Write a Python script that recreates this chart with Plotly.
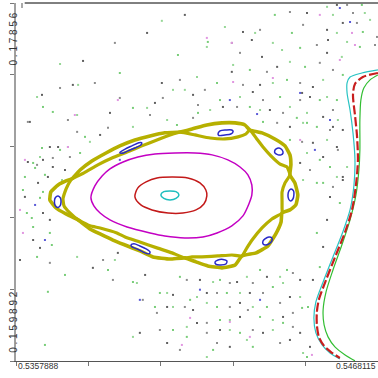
import plotly.graph_objects as go

# ---------------- axis extent & tick labels ----------------
x_min, x_max = 0.5357888, 0.5468115
y_min, y_max = 0.159892, 0.17856
x_tick_vals = [0.5357888, 0.5379933, 0.5401979, 0.5424024, 0.5446070, 0.5468115]
y_tick_vals = [0.159892, 0.1636256, 0.1673592, 0.1710928, 0.1748264, 0.17856]
x_tick_labels = ["0.5357888", "0.5468115"]
y_tick_labels = ["0.159892", "0.17856"]

# ---------------- closed orbits around the central fixed point ----------------
cyan_x = [0.54020,0.54029,0.54048,0.54066,0.54075,0.54066,0.54048,0.54029,0.54020]
cyan_y = [0.16855,0.16872,0.16876,0.16872,0.16855,0.16837,0.16829,0.16837,0.16855]

red_x = [0.53941,0.53950,0.53975,0.54008,0.54054,0.54102,0.54139,0.54157,0.54160,0.54151,
         0.54127,0.54087,0.54042,0.53993,0.53959,0.53941]
red_y = [0.16845,0.16892,0.16923,0.16944,0.16949,0.16944,0.16918,0.16881,0.16850,0.16808,
         0.16777,0.16761,0.16761,0.16777,0.16803,0.16845]

magenta_x = [0.53807,0.53819,0.53841,0.53865,0.53905,0.53950,0.54002,0.54063,0.54124,0.54176,
             0.54224,0.54261,0.54285,0.54297,0.54297,0.54288,0.54270,0.54236,0.54191,0.54148,
             0.54093,0.54032,0.53987,0.53917,0.53865,0.53835,0.53816,0.53807]
magenta_y = [0.16840,0.16902,0.16954,0.16991,0.17027,0.17053,0.17069,0.17074,0.17074,0.17064,
             0.17038,0.17001,0.16960,0.16907,0.16855,0.16808,0.16746,0.16694,0.16657,0.16636,
             0.16631,0.16641,0.16657,0.16688,0.16725,0.16761,0.16798,0.16840]

# ---------------- chaotic separatrix layer (outer and inner strands) ----------------
yellow_outer_x = [0.53768,0.53731,0.53701,0.53682,0.53685,0.53707,0.53731,0.53749,0.53774,0.53810,
                  0.53853,0.53895,0.53941,0.53987,0.54032,0.54078,0.54115,0.54160,0.54206,0.54246,
                  0.54276,0.54291,0.54328,0.54367,0.54398,0.54413,0.54416,0.54413,0.54428,0.54437,
                  0.54431,0.54413,0.54389,0.54386,0.54370,0.54346,0.54310,0.54267,0.54246,0.54206,
                  0.54163,0.54127,0.54093,0.54048,0.53996,0.53956,0.53911,0.53874,0.53835,0.53804,
                  0.53768]
yellow_outer_y = [0.16725,0.16756,0.16787,0.16829,0.16871,0.16907,0.16928,0.16939,0.16985,0.17032,
                  0.17074,0.17111,0.17142,0.17163,0.17179,0.17183,0.17199,0.17220,0.17231,0.17231,
                  0.17220,0.17194,0.17179,0.17147,0.17111,0.17064,0.17012,0.16960,0.16918,0.16855,
                  0.16803,0.16777,0.16761,0.16714,0.16652,0.16589,0.16553,0.16537,0.16490,0.16475,
                  0.16485,0.16506,0.16527,0.16521,0.16532,0.16563,0.16594,0.16620,0.16652,0.16678,
                  0.16725]
yellow_inner_x = [0.53768,0.53743,0.53725,0.53722,0.53728,0.53737,0.53749,0.53786,0.53828,0.53871,
                  0.53917,0.53962,0.54008,0.54048,0.54078,0.54124,0.54170,0.54215,0.54255,0.54279,
                  0.54291,0.54310,0.54331,0.54355,0.54383,0.54404,0.54413,0.54398,0.54389,0.54389,
                  0.54389,0.54389,0.54358,0.54328,0.54300,0.54282,0.54267,0.54236,0.54194,0.54145,
                  0.54115,0.54093,0.54054,0.54008,0.53956,0.53911,0.53886,0.53835,0.53804,0.53768]
yellow_inner_y = [0.16725,0.16761,0.16798,0.16834,0.16871,0.16907,0.16939,0.16970,0.17012,0.17048,
                  0.17079,0.17111,0.17142,0.17168,0.17183,0.17168,0.17152,0.17147,0.17158,0.17173,
                  0.17194,0.17152,0.17105,0.17059,0.17016,0.17001,0.16960,0.16918,0.16871,0.16824,
                  0.16787,0.16761,0.16730,0.16683,0.16625,0.16579,0.16537,0.16542,0.16537,0.16532,
                  0.16532,0.16527,0.16553,0.16579,0.16610,0.16636,0.16657,0.16683,0.16694,0.16725]

# ---------------- 8-island chain (blue), separated by None ----------------
island_x = [0.53707,0.53714,0.53716,0.53713,0.53705,0.53698,0.53696,0.53699,0.53707, None,
            0.53895,0.53911,0.53932,0.53953,0.53962,0.53959,0.53941,0.53920,0.53902,0.53895, None,
            0.54194,0.54200,0.54218,0.54236,0.54240,0.54233,0.54215,0.54197,0.54194, None,
            0.54370,0.54380,0.54389,0.54392,0.54386,0.54377,0.54367,0.54367,0.54370, None,
            0.54416,0.54424,0.54425,0.54422,0.54415,0.54409,0.54407,0.54410,0.54416, None,
            0.54337,0.54349,0.54358,0.54358,0.54349,0.54337,0.54331,0.54331,0.54337, None,
            0.54185,0.54194,0.54209,0.54221,0.54218,0.54203,0.54188,0.54185, None,
            0.53929,0.53938,0.53956,0.53975,0.53987,0.53984,0.53965,0.53947,0.53932,0.53929]
island_y = [0.16850,0.16840,0.16819,0.16798,0.16790,0.16800,0.16824,0.16842,0.16850, None,
            0.17076,0.17094,0.17111,0.17127,0.17127,0.17116,0.17100,0.17085,0.17072,0.17076, None,
            0.17173,0.17189,0.17194,0.17194,0.17186,0.17173,0.17168,0.17165,0.17173, None,
            0.17094,0.17100,0.17090,0.17074,0.17064,0.17064,0.17074,0.17087,0.17094, None,
            0.16886,0.16876,0.16855,0.16834,0.16824,0.16834,0.16855,0.16876,0.16886, None,
            0.16626,0.16636,0.16631,0.16615,0.16600,0.16594,0.16600,0.16615,0.16626, None,
            0.16506,0.16516,0.16519,0.16511,0.16495,0.16490,0.16493,0.16506, None,
            0.16594,0.16600,0.16589,0.16574,0.16558,0.16548,0.16558,0.16574,0.16584,0.16594]

# ---------------- outer invariant curves on the right ----------------
cyan_r_x = [0.54681,0.54632,0.54596,0.54587,0.54587,0.54596,0.54605,0.54611,0.54608,0.54596,
            0.54574,0.54544,0.54514,0.54492,0.54486,0.54492,0.54511,0.54535,0.54565]
cyan_r_y = [0.17507,0.17491,0.17470,0.17439,0.17387,0.17298,0.17179,0.17038,0.16907,0.16777,
            0.16662,0.16532,0.16401,0.16297,0.16214,0.16136,0.16073,0.16031,0.16000]
red_r_x = [0.54681,0.54635,0.54611,0.54605,0.54611,0.54617,0.54620,0.54614,0.54602,0.54581,
           0.54553,0.54523,0.54501,0.54495,0.54495,0.54501,0.54517,0.54538,0.54565]
red_r_y = [0.17491,0.17470,0.17434,0.17377,0.17272,0.17168,0.17038,0.16907,0.16777,0.16662,
           0.16542,0.16412,0.16308,0.16245,0.16177,0.16115,0.16068,0.16036,0.16005]
green_r_x = [0.54681,0.54657,0.54638,0.54629,0.54626,0.54626,0.54623,0.54614,0.54596,0.54571,
             0.54544,0.54523,0.54514,0.54517,0.54529,0.54550,0.54581,0.54611]
green_r_y = [0.17481,0.17455,0.17413,0.17350,0.17246,0.17090,0.16985,0.16855,0.16725,0.16594,
             0.16464,0.16350,0.16255,0.16177,0.16115,0.16063,0.16021,0.15990]

# ---------------- scattered chaotic-sea points ----------------
gray_x = [0.54093,0.53978,0.53783,0.54023,0.53752,0.53658,0.53865,0.54002,0.53835,0.53682,
          0.53615,0.53728,0.54270,0.54465,0.54556,0.54574,0.54526,0.54297,0.54328,0.54529,
          0.54526,0.54374,0.54236,0.54483,0.54322,0.54118,0.54300,0.54474,0.54514,0.54352,
          0.54209,0.54574,0.54413,0.54483,0.54514,0.54444,0.54574,0.53591,0.53813,0.53889,
          0.53972,0.54057,0.54039,0.54139,0.54252,0.54343,0.54444,0.54291,0.54160,0.54118,
          0.54261,0.54413,0.54392,0.54261,0.54130,0.53956,0.54200,0.54331,0.54444,0.54413,
          0.54230,0.54039,0.53621,0.53707,0.53661,0.53691,0.53676,0.53646,0.53606,0.53661,
          0.53682,0.53631,0.53652,0.54450,0.54544,0.54556,0.54574,0.54535,0.54526,0.54514,
          0.54483,0.54474]
gray_y = [0.17794,0.17700,0.17554,0.17439,0.17429,0.17377,0.17283,0.17335,0.17168,0.17105,
          0.17027,0.16985,0.17705,0.17804,0.17846,0.17752,0.17716,0.17663,0.17575,0.17663,
          0.17596,0.17523,0.17497,0.17418,0.17429,0.17377,0.17392,0.17366,0.17262,0.17298,
          0.17314,0.17194,0.17210,0.17127,0.17053,0.17022,0.16933,0.16516,0.16475,0.16553,
          0.16438,0.16334,0.16271,0.16412,0.16401,0.16428,0.16412,0.16344,0.16344,0.16255,
          0.16292,0.16323,0.16219,0.16219,0.16188,0.16136,0.16151,0.16136,0.16136,0.16099,
          0.16063,0.16083,0.17236,0.17105,0.17038,0.17001,0.16949,0.16918,0.16845,0.16761,
          0.16725,0.16620,0.16579,0.17387,0.17210,0.17105,0.16949,0.16845,0.16725,0.16584,
          0.16412,0.16063]
gray_x_2 = [0.53682,0.53844,0.53874,0.53965,0.54008,0.54099,0.54230,0.54300,0.54422,0.54331,
            0.54191,0.54093,0.54230,0.54383,0.54422,0.54285,0.54160,0.54017,0.54160,0.54300,
            0.54422,0.54383,0.54191,0.54078,0.54322,0.54413,0.54587,0.54605,0.54617,0.54678,
            0.54453,0.54236,0.54261,0.54495,0.54672,0.54504,0.54343,0.54544,0.54444,0.54270,
            0.54154,0.54331,0.54444,0.54544,0.54392,0.54252,0.54133,0.54535,0.54374,0.54450,
            0.54559,0.54474,0.54544,0.54118,0.53880,0.54078,0.54026,0.53819,0.53713,0.53737,
            0.53895,0.53987,0.53859,0.53743,0.53643,0.53615,0.53765,0.53691]
gray_y_2 = [0.16501,0.16516,0.16412,0.16308,0.16240,0.16412,0.16396,0.16396,0.16448,0.16344,
            0.16344,0.16271,0.16271,0.16292,0.16240,0.16255,0.16188,0.16151,0.16136,0.16151,
            0.16167,0.16083,0.16083,0.16047,0.17716,0.17809,0.17846,0.17804,0.17752,0.17679,
            0.17742,0.17648,0.17596,0.17637,0.17637,0.17544,0.17497,0.17507,0.17439,0.17429,
            0.17403,0.17350,0.17350,0.17298,0.17283,0.17314,0.17324,0.17194,0.17231,0.17132,
            0.17090,0.16985,0.16897,0.17257,0.17648,0.17455,0.17361,0.17439,0.17413,0.17246,
            0.17361,0.17272,0.17205,0.17053,0.17012,0.17236,0.17184,0.17048]
green_x = [0.54072,0.53895,0.53691,0.53935,0.54069,0.53774,0.53667,0.53661,0.53789,0.53713,
           0.54367,0.54632,0.54635,0.54419,0.54163,0.54444,0.54626,0.54459,0.54291,0.54574,
           0.54404,0.54191,0.54200,0.54383,0.54556,0.54434,0.54291,0.54133,0.54495,0.54331,
           0.54413,0.54535,0.54495,0.53728,0.53859,0.53935,0.54017,0.54002,0.54078,0.54200,
           0.54322,0.54404,0.54361,0.54221,0.54109,0.54191,0.54343,0.54450,0.54322,0.54200,
           0.54057,0.54099,0.54261,0.54392,0.54300,0.54465,0.54179,0.53658,0.53631,0.53637,
           0.53606,0.53600,0.53661,0.53652,0.53612,0.53627,0.53631,0.53682,0.53688,0.53643,
           0.54504,0.54465,0.54504,0.54514,0.54565,0.54495,0.54504,0.54468,0.53676,0.53667]
green_y = [0.17585,0.17491,0.17288,0.17309,0.17220,0.17074,0.16960,0.17314,0.17158,0.17090,
           0.17794,0.17846,0.17705,0.17700,0.17653,0.17622,0.17627,0.17523,0.17507,0.17481,
           0.17455,0.17439,0.17350,0.17366,0.17350,0.17257,0.17314,0.17283,0.17210,0.17236,
           0.17142,0.17001,0.16918,0.16438,0.16464,0.16401,0.16344,0.16271,0.16428,0.16412,
           0.16464,0.16464,0.16375,0.16344,0.16308,0.16271,0.16271,0.16266,0.16219,0.16203,
           0.16151,0.16115,0.16136,0.16188,0.16063,0.16010,0.16047,0.17100,0.17022,0.16996,
           0.16949,0.16881,0.16871,0.16840,0.16761,0.16735,0.16688,0.16657,0.16594,0.16532,
           0.17350,0.17231,0.17038,0.16918,0.16813,0.16657,0.16479,0.16271,0.16350,0.16073]
green_x_2 = [0.53765,0.53880,0.53947,0.54039,0.54057,0.54179,0.54282,0.54383,0.54392,0.54261,
             0.54130,0.54160,0.54300,0.54444,0.54361,0.54230,0.54099,0.53935,0.54230,0.54361,
             0.54282,0.54453,0.54160,0.54215,0.54307,0.54526,0.54641,0.54544,0.54657,0.54556,
             0.54361,0.54160,0.54389,0.54587,0.54571,0.54413,0.54240,0.54514,0.54361,0.54130,
             0.54261,0.54413,0.54526,0.54465,0.54322,0.54170,0.54559,0.54453,0.54526,0.54465,
             0.54556,0.54453,0.54587,0.54023,0.53713,0.54057,0.54093,0.53768,0.53643,0.53765,
             0.53978,0.54039,0.53804,0.53652,0.53719,0.53935,0.53737]
green_y_2 = [0.16532,0.16516,0.16396,0.16344,0.16271,0.16401,0.16428,0.16428,0.16396,0.16344,
             0.16323,0.16292,0.16271,0.16323,0.16203,0.16203,0.16167,0.16115,0.16151,0.16151,
             0.16099,0.16031,0.16010,0.17731,0.17700,0.17836,0.17804,0.17794,0.17768,0.17700,
             0.17648,0.17627,0.17611,0.17653,0.17575,0.17549,0.17533,0.17455,0.17439,0.17470,
             0.17366,0.17314,0.17366,0.17283,0.17298,0.17298,0.17246,0.17231,0.17142,0.17074,
             0.16949,0.16933,0.17001,0.17763,0.17538,0.17403,0.17403,0.17429,0.17366,0.17272,
             0.17309,0.17246,0.17132,0.17053,0.16933,0.17210,0.17105]
pink_x = [0.53758,0.53737,0.53889,0.54160,0.54236,0.54504,0.54602,0.54240,0.54361,0.54084,
          0.54291,0.54480,0.54109,0.54230,0.53606,0.53591,0.53600,0.54565,0.54611,0.54444]
pink_y = [0.17272,0.17105,0.17350,0.17674,0.17648,0.17794,0.17700,0.17444,0.17465,0.16073,
          0.16115,0.16021,0.16214,0.16193,0.17038,0.16777,0.16657,0.17559,0.17637,0.17142]
blue_x = [0.54230,0.54596,0.54535,0.54444,0.53956,0.54322,0.53637,0.53667,0.53895,0.54313,
          0.54489,0.54139,0.54565]
blue_y = [0.17350,0.17757,0.17246,0.17387,0.16308,0.16308,0.16803,0.16620,0.17038,0.17277,
          0.17090,0.16361,0.17830]

fig = go.Figure()

def dots(x, y, color):
    fig.add_trace(go.Scatter(x=x, y=y, mode="markers",
                             marker=dict(symbol="square", size=2, color=color, line=dict(width=0)),
                             hoverinfo="skip"))

dots(green_x, green_y, "rgb(120,205,120)")
dots(green_x_2, green_y_2, "rgb(150,215,150)")
dots(gray_x, gray_y, "rgb(95,95,95)")
dots(gray_x_2, gray_y_2, "rgb(140,140,140)")
dots(pink_x, pink_y, "rgb(225,150,225)")
dots(blue_x, blue_y, "rgb(90,90,215)")

def curve(x, y, color, width, dash="solid", shape="spline", smooth=0.8):
    fig.add_trace(go.Scatter(x=x, y=y, mode="lines",
                             line=dict(color=color, width=width, dash=dash, shape=shape,
                                       smoothing=smooth if shape == "spline" else None),
                             hoverinfo="skip", connectgaps=False))

yellow = "rgb(182,176,0)"
curve(yellow_outer_x, yellow_outer_y, yellow, 3.6, shape="spline", smooth=0.4)
curve(yellow_inner_x, yellow_inner_y, yellow, 3.2, shape="spline", smooth=0.4)
curve(magenta_x, magenta_y, "rgb(195,0,195)", 1.5)
curve(red_x, red_y, "rgb(195,25,25)", 1.5)
curve(cyan_x, cyan_y, "rgb(30,190,190)", 1.5)
curve(island_x, island_y, "rgb(40,40,200)", 1.5, smooth=0.9)
curve(green_r_x, green_r_y, "rgb(50,190,50)", 1.2)
curve(cyan_r_x, cyan_r_y, "rgb(40,195,195)", 1.2)
curve(red_r_x, red_r_y, "rgb(200,30,30)", 2.2, dash="9px,3px")

label_font = dict(family="Liberation Sans, Arial, sans-serif", size=8.5, color="#333333")
yl_font = dict(family="Liberation Sans, Arial, sans-serif", size=10, color="#333333")

annotations = [
    dict(x=0, y=-0.014, xref="paper", yref="paper", text=x_tick_labels[0],
         xanchor="left", yanchor="middle", showarrow=False, font=label_font),
    dict(x=1.0, y=-0.014, xref="paper", yref="paper", text=x_tick_labels[1],
         xanchor="right", yanchor="middle", showarrow=False, font=label_font),
    dict(x=-0.006, y=0.98, xref="paper", yref="paper", text=" ".join(y_tick_labels[1]),
         textangle=-90, xanchor="center", yanchor="top", showarrow=False, font=yl_font),
    dict(x=-0.006, y=0.0168, xref="paper", yref="paper", text=" ".join(y_tick_labels[0]),
         textangle=-90, xanchor="center", yanchor="bottom", showarrow=False, font=yl_font),
]

shapes = [
    dict(type="line", xref="paper", yref="paper", x0=0.024, x1=1.0, y0=1.0, y1=1.0,
         line=dict(color="black", width=1)),
    dict(type="line", xref="paper", yref="paper", x0=0.0166, x1=0.0166, y0=1.0, y1=0.986,
         line=dict(color="#555555", width=1)),
]

fig.update_layout(
    width=378, height=378,
    margin=dict(l=16, r=0, t=3, b=17),
    paper_bgcolor="white", plot_bgcolor="white",
    showlegend=False,
    annotations=annotations,
    shapes=shapes,
    xaxis=dict(range=[x_min, x_max], showgrid=False, zeroline=False,
               showline=True, linecolor="#555555", linewidth=1,
               ticks="outside", ticklen=4, tickcolor="#777777",
               tickvals=x_tick_vals, showticklabels=False, fixedrange=True),
    yaxis=dict(range=[y_min, y_max], showgrid=False, zeroline=False,
               showline=True, linecolor="#a0a0a0", linewidth=2,
               ticks="outside", ticklen=4, tickcolor="#777777",
               tickvals=y_tick_vals, showticklabels=False, fixedrange=True),
)

fig.write_html("out.html", config={"displayModeBar": False},
               post_script="document.body.style.margin='0';document.body.style.overflow='hidden';")
